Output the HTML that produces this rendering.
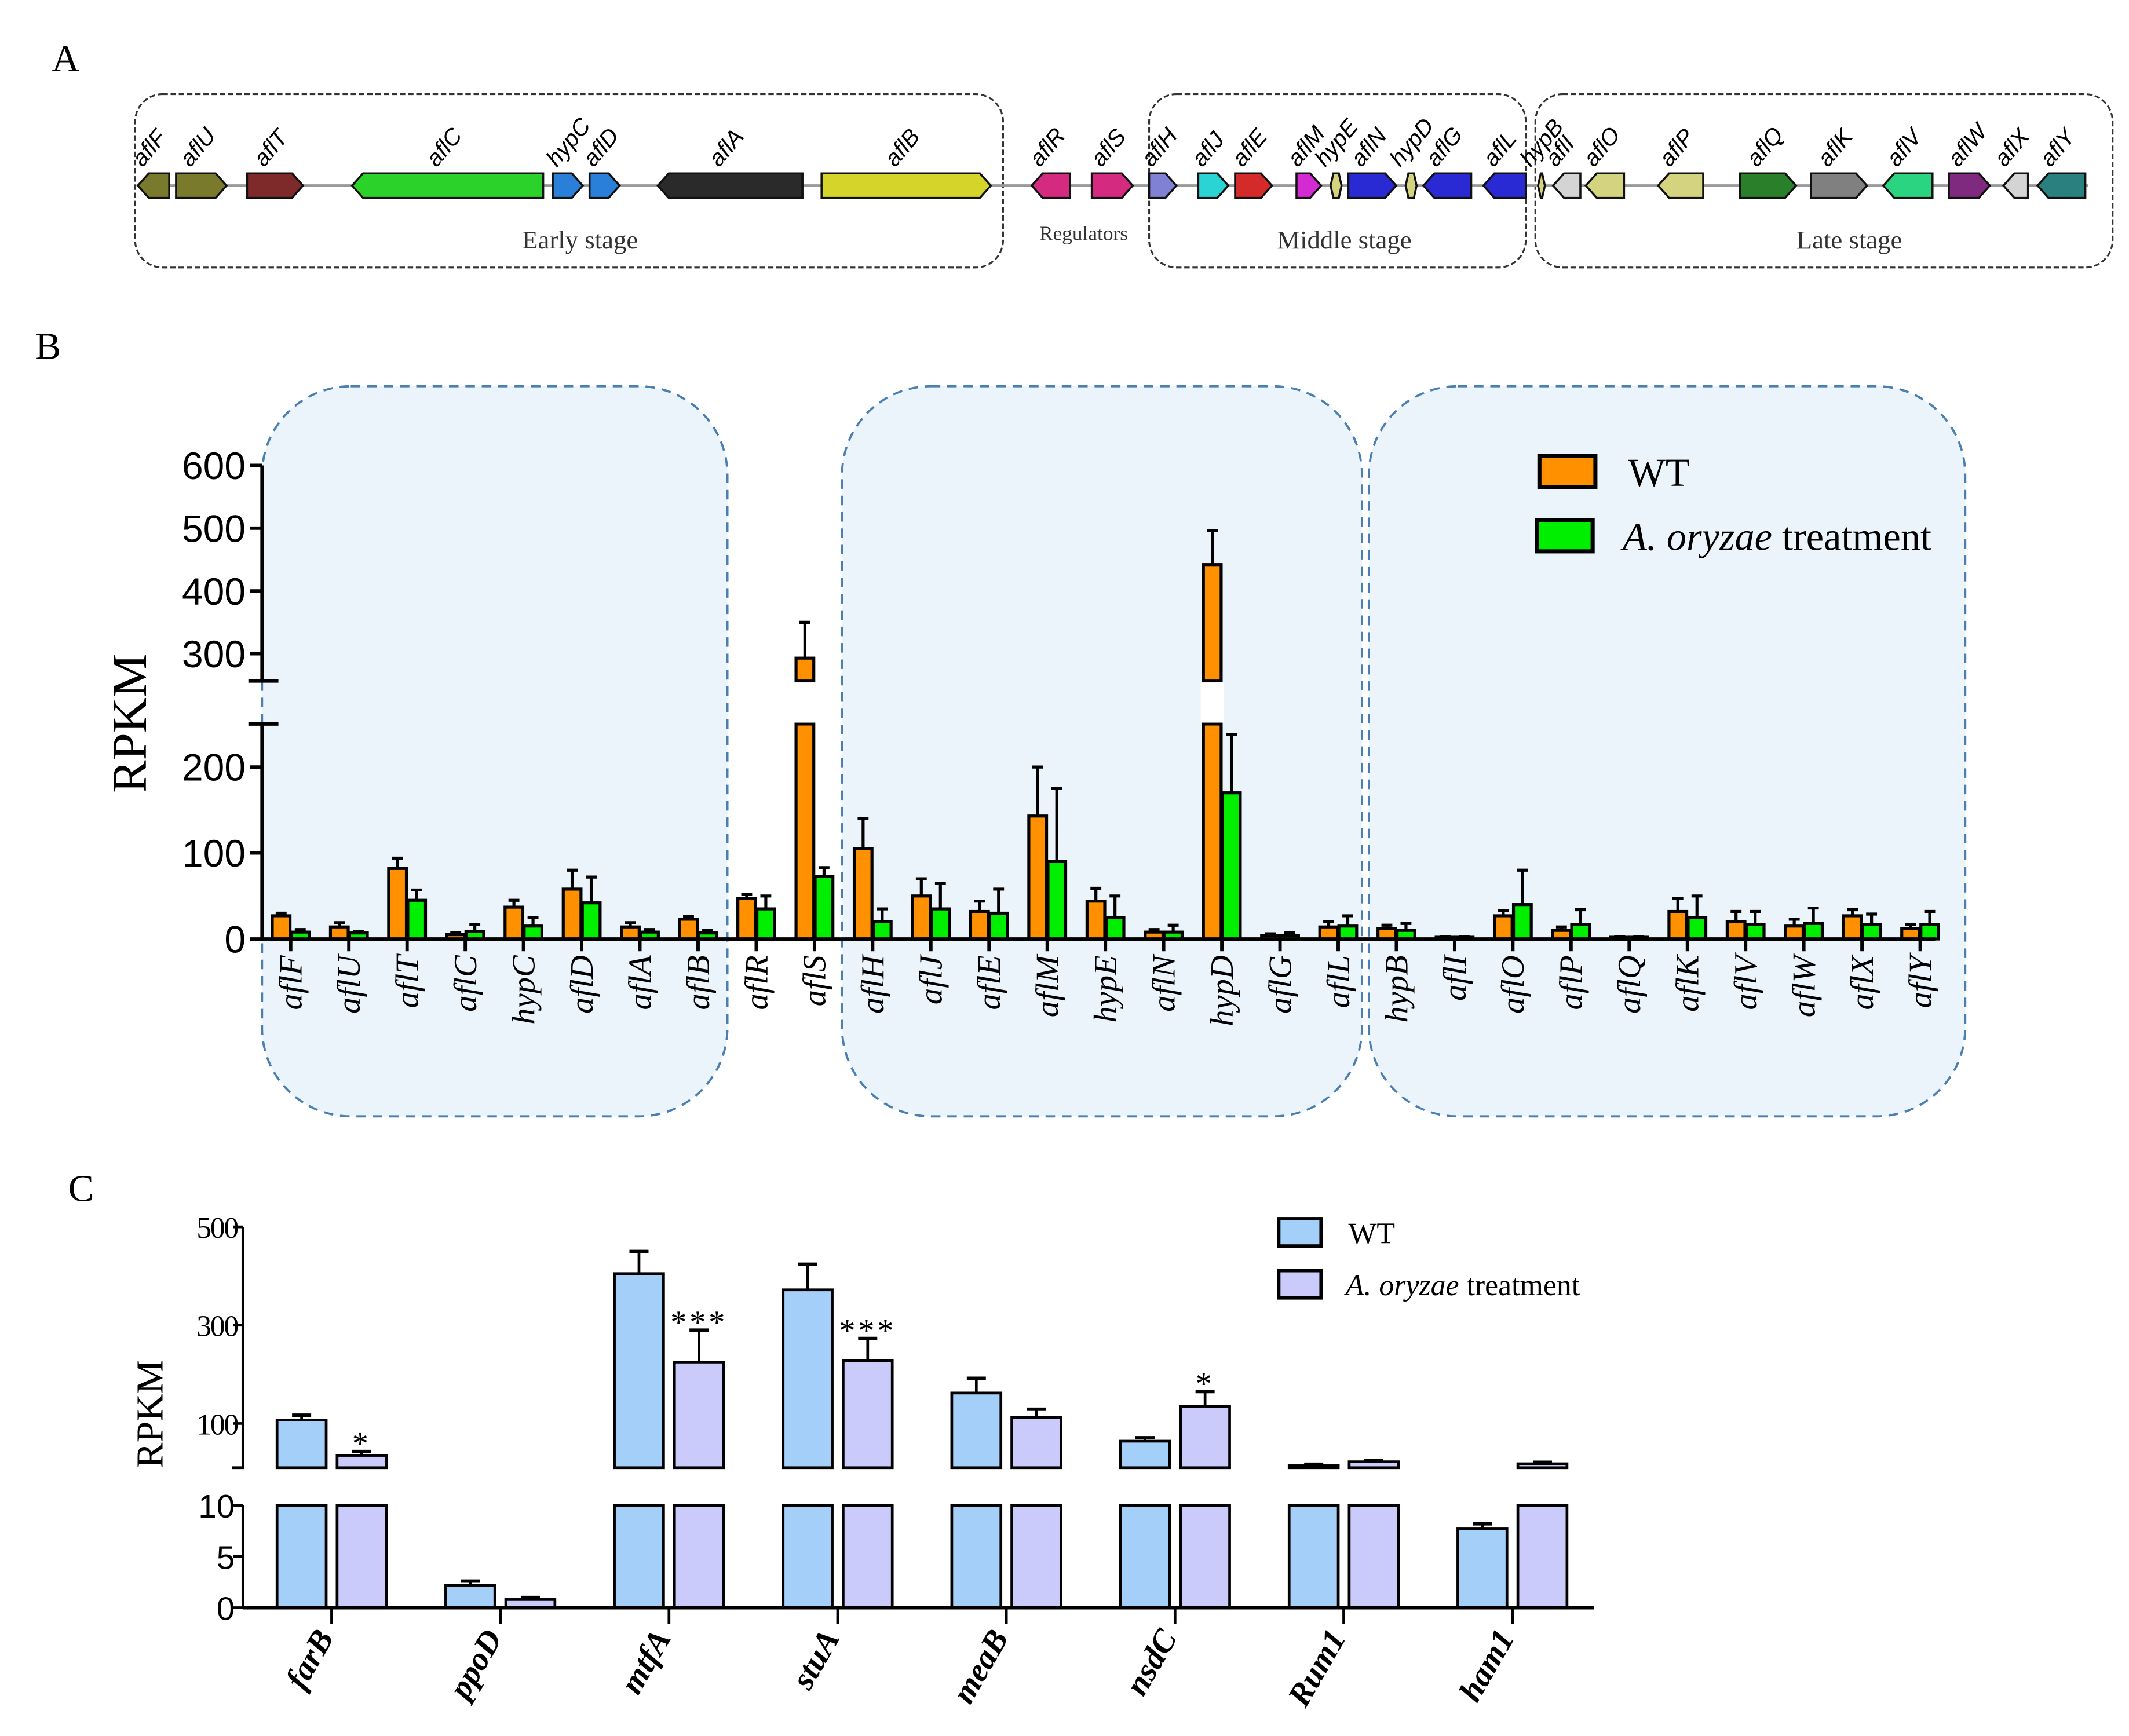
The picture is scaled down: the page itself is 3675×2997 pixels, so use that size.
<!DOCTYPE html>
<html><head><meta charset="utf-8"><style>
html,body{margin:0;padding:0;background:#fff;}
svg{display:block;}
.serif{font-family:"Liberation Serif",serif;}
.sans{font-family:"Liberation Sans",sans-serif;}
</style></head><body>
<svg id="fig" xmlns="http://www.w3.org/2000/svg" width="3675" height="2997" viewBox="0 0 1560 1272" preserveAspectRatio="none">
<rect x="0" y="0" width="1560" height="1272" fill="#fff"/>
<text class="serif" x="38" y="52" font-size="28">A</text>
<text class="serif" x="26" y="263" font-size="28">B</text>
<text class="serif" x="50" y="880" font-size="28">C</text>
<g id="pa"></g>
<g id="pb"></g>
<g id="pc"></g>
</svg>
<script>
// ---------- Panel A data ----------
const geneNames=["aflF","aflU","aflT","aflC","hypC","aflD","aflA","aflB","aflR","aflS","aflH","aflJ","aflE","aflM","hypE","aflN","hypD","aflG","aflL","hypB","aflI","aflO","aflP","aflQ","aflK","aflV","aflW","aflX","aflY"];
const geneStart=[101,129,181,258,405,432,482,602,756,800,842,878,905,950,975,988,1030,1043,1087,1127,1138,1162,1215,1275,1327,1380,1428,1468,1493];
const geneEnd=[124,166,222,398,427,454,588,726,784,830,862,900,932,968,983,1023,1038,1078,1118,1132,1158,1190,1248,1316,1368,1416,1458,1486,1528];
const geneDir=[-1,1,1,-1,1,1,-1,1,-1,1,1,1,1,1,0,1,0,-1,-1,0,-1,-1,-1,1,1,-1,1,-1,-1];
const geneColor=["#7a7a2c","#7a7a2c","#7f2a2a","#2ad22a","#2a7fd8","#2a7fd8","#2a2a2a","#d4d42a","#d42a80","#d42a80","#8080d4","#2ad4d4","#d42a2a","#d42ad4","#d4d480","#2a2ad4","#d4d480","#2a2ad4","#2a2ad4","#d4d480","#d4d4d4","#d4d480","#d4d480","#2a7f2a","#808080","#2ad480","#7f2a7f","#d4d4d4","#2a7f7f"];
const NS="http://www.w3.org/2000/svg";
function mk(parent,tag,attrs,text){const e=document.createElementNS(NS,tag);for(const k in attrs)e.setAttribute(k,attrs[k]);if(text!==undefined)e.textContent=text;parent.appendChild(e);return e;}

const pa=document.getElementById('pa');
const stageBoxes=[[99,69,636,127],[842,69,276,127],[1125,69,423,127]];
stageBoxes.forEach((b,i)=>{
  const r=mk(pa,'rect',{x:b[0],y:b[1],width:b[2],height:b[3],rx:20,fill:'none',stroke:'#333','stroke-width':1.3,'stroke-dasharray':'4,2'});
  
  
});
const bb=mk(pa,'line',{x1:100,y1:136,x2:1530,y2:136,stroke:'#999','stroke-width':2});


geneNames.forEach((n,i)=>{
  const a=geneStart[i],b=geneEnd[i],t=127,btm=145,m=136,h=Math.min(8,(b-a)/2);
  let pts;
  if(geneDir[i]===1)pts=`${a},${t} ${b-h},${t} ${b},${m} ${b-h},${btm} ${a},${btm}`;
  else if(geneDir[i]===-1)pts=`${a+h},${t} ${b},${t} ${b},${btm} ${a+h},${btm} ${a},${m}`;
  else pts=`${a+2},${t} ${b-2},${t} ${b},${m} ${b-2},${btm} ${a+2},${btm} ${a},${m}`;
  const p=mk(pa,'polygon',{points:pts,fill:geneColor[i],stroke:'#111','stroke-width':1.5});
  
  
  const cx=(a+b)/2;
  const tx=mk(pa,'text',{x:cx-8,y:123,'font-size':17,'font-style':'italic','font-family':'Liberation Sans, sans-serif',transform:`rotate(-50 ${cx-8} 123)`},n);
  
  
});
[["Early stage",425,182,19],["Regulators",794,176,15],["Middle stage",985,182,19],["Late stage",1355,182,19]].forEach(s=>{
  const t=mk(pa,'text',{x:s[1],y:s[2],'font-size':s[3],'text-anchor':'middle','font-family':'Liberation Serif, serif',fill:'#333'},s[0]);
  
  
});

// ---------- Panel B data ----------
const bCats=["aflF","aflU","aflT","aflC","hypC","aflD","aflA","aflB","aflR","aflS","aflH","aflJ","aflE","aflM","hypE","aflN","hypD","aflG","aflL","hypB","aflI","aflO","aflP","aflQ","aflK","aflV","aflW","aflX","aflY"];
const bWT=[27,14,82,5,37,58,14,23,47,293,105,50,32,143,44,8,442,4,14,12,2,27,10,2,32,20,15,27,12];
const bWTerr=[3,5,12,2,8,22,5,3,5,57,35,20,12,57,15,3,54,2,6,4,1,6,4,1,15,12,8,7,5];
const bTR=[8,7,45,9,15,42,8,7,35,73,20,35,30,90,25,8,170,4,15,10,2,40,17,2,25,17,18,17,17];
const bTRerr=[3,2,12,8,10,30,3,3,15,10,15,30,28,85,25,8,68,3,12,8,1,40,17,1,25,15,18,12,15];
const bLowTicks=[0,100,200];
const bHighTicks=[300,400,500,600];
(function(){
const g=document.getElementById('pb');
const AX=192,BASE=688;
function x(i){return 213+i*(1407-213)/(bCats.length-1);}
function yL(v){return BASE-v*0.63;}
const LTOP=yL(250);
function yH(v){return 479-(v-300)*0.46;}
const HBOT=499;
const HMIN=300-(HBOT-479)/0.46;
function yv(v){return v<=250?yL(v):(v>=HMIN?yH(v):LTOP);}
[[192,283,341,535],[617,283,381,535],[1003,283,437,535]].forEach(b=>{
  const r=mk(g,'rect',{x:b[0],y:b[1],width:b[2],height:b[3],rx:65,fill:'#ebf3fb',stroke:'#4a7fb0','stroke-width':1.6,'stroke-dasharray':'7,5'});
  
  
});
function bar(cx,v,err,color,name){
  const w=13;
  const gg=mk(g,'g',{});
  
  
  const topL=Math.max(yL(Math.min(v,250)),LTOP);
  mk(gg,'rect',{x:cx-w/2,y:topL,width:w,height:BASE-topL,fill:color,stroke:'#000','stroke-width':2.2});
  if(v>250){
    const yt=yH(v);
    mk(gg,'rect',{x:cx-w/2,y:yt,width:w,height:HBOT-yt,fill:color,stroke:'#000','stroke-width':2.2});
    mk(gg,'rect',{x:cx-w/2-2,y:HBOT+1,width:w+4,height:LTOP-HBOT-2,fill:'#fff'});
  }
  const ytop=yv(v),ye=v>250?yH(v+err):yL(v+err);
  mk(gg,'line',{x1:cx,y1:ytop,x2:cx,y2:ye,stroke:'#000','stroke-width':2.2});
  mk(gg,'line',{x1:cx-4,y1:ye,x2:cx+4,y2:ye,stroke:'#000','stroke-width':2.2});
}
bCats.forEach((c,i)=>{
  bar(x(i)-7,bWT[i],bWTerr[i],'#ff9000','bar-wt-'+c);
  bar(x(i)+7,bTR[i],bTRerr[i],'#00ee00','bar-treatment-'+c);
  const t=mk(g,'line',{x1:x(i),y1:BASE,x2:x(i),y2:BASE+9,stroke:'#000','stroke-width':2.5});
  
  
  const l=mk(g,'text',{x:0,y:0,'font-size':24,'font-style':'italic','font-family':'Liberation Serif, serif','text-anchor':'end',transform:`translate(${x(i)+8} 700) rotate(-90)`},c);
  
  
});
const ax=mk(g,'g',{});


mk(ax,'line',{x1:AX,y1:yH(600),x2:AX,y2:HBOT,stroke:'#000','stroke-width':2.5});
mk(ax,'line',{x1:AX,y1:LTOP,x2:AX,y2:BASE,stroke:'#000','stroke-width':2.5});
mk(ax,'line',{x1:AX-10,y1:HBOT,x2:AX+12,y2:HBOT,stroke:'#000','stroke-width':2.5});
mk(ax,'line',{x1:AX-10,y1:LTOP,x2:AX+12,y2:LTOP,stroke:'#000','stroke-width':2.5});
const xa=mk(g,'line',{x1:AX,y1:BASE,x2:1418,y2:BASE,stroke:'#000','stroke-width':2.5});


bLowTicks.forEach(v=>{mk(ax,'line',{x1:AX-9,y1:yL(v),x2:AX,y2:yL(v),stroke:'#000','stroke-width':2.5});
  mk(ax,'text',{x:AX-12,y:yL(v)+10,'font-size':28,'text-anchor':'end','font-family':'Liberation Sans, sans-serif'},v);});
bHighTicks.forEach(v=>{mk(ax,'line',{x1:AX-9,y1:yH(v),x2:AX,y2:yH(v),stroke:'#000','stroke-width':2.5});
  mk(ax,'text',{x:AX-12,y:yH(v)+10,'font-size':28,'text-anchor':'end','font-family':'Liberation Sans, sans-serif'},v);});
const yt=mk(g,'text',{x:0,y:0,'font-size':36,'text-anchor':'middle','font-family':'Liberation Serif, serif',transform:'translate(107 530) rotate(-90)'},'RPKM');


const lg=mk(g,'g',{});


mk(lg,'rect',{x:1128,y:334,width:41,height:23,fill:'#ff9000',stroke:'#000','stroke-width':3});
mk(lg,'text',{x:1193,y:356,'font-size':29,'font-family':'Liberation Serif, serif'},'WT');
mk(lg,'rect',{x:1126,y:381,width:41,height:23,fill:'#00ee00',stroke:'#000','stroke-width':3});
const t2=mk(lg,'text',{x:1189,y:403,'font-size':29,'font-family':'Liberation Serif, serif'});
mk(t2,'tspan',{'font-style':'italic'},'A. oryzae');
mk(t2,'tspan',{},' treatment');
})();

// ---------- Panel C data ----------
const cCats=["farB","ppoD","mtfA","stuA","meaB","nsdC","Rum1","ham1"];
const cWT=[107,2.2,405,372,162,64,14,7.7];
const cWTerr=[10,0.4,45,52,30,7,3,0.5];
const cTR=[35,0.8,225,228,112,135,22,18];
const cTRerr=[8,0.2,65,45,17,30,3,3];
const cSig=["*","","***","***","","*","",""];
const cHighTicks=[100,300,500];
const cLowTicks=[0,5,10];
(function(){
const g=document.getElementById('pc');
const AX=178,BASE=1178;
function x(i){return 243+i*123.6;}
function yL(v){return BASE-v*7.5;}
const LTOP=yL(10);
function yH(v){return 1043-(v-100)*0.36;}
const HBOT=yH(10);
function bar(cx,v,err,color,name,sig){
  const w=36;
  const gg=mk(g,'g',{});
  
  
  const topL=yL(Math.min(v,10));
  mk(gg,'rect',{x:cx-w/2,y:topL,width:w,height:BASE-topL,fill:color,stroke:'#000','stroke-width':2});
  let ytop,ye;
  if(v>10){
    ytop=yH(v);ye=yH(v+err);
    mk(gg,'rect',{x:cx-w/2,y:ytop,width:w,height:HBOT-ytop,fill:color,stroke:'#000','stroke-width':2});
    mk(gg,'rect',{x:cx-w/2-2,y:HBOT+1.2,width:w+4,height:LTOP-HBOT-2.4,fill:'#fff'});
  } else {ytop=yL(v);ye=yL(v+err);}
  mk(gg,'line',{x1:cx,y1:ytop,x2:cx,y2:ye,stroke:'#000','stroke-width':2});
  mk(gg,'line',{x1:cx-7,y1:ye,x2:cx+7,y2:ye,stroke:'#000','stroke-width':2.5});
  if(sig){mk(gg,'text',{x:cx,y:ye+2,'font-size':24,'text-anchor':'middle','font-family':'Liberation Serif, serif','letter-spacing':'2'},sig);}
}
cCats.forEach((c,i)=>{
  bar(x(i)-22,cWT[i],cWTerr[i],'#a4cff8','bar-wt-'+c,'');
  bar(x(i)+22,cTR[i],cTRerr[i],'#cbcbfb','bar-treatment-'+c,cSig[i]);
  const t=mk(g,'line',{x1:x(i),y1:BASE,x2:x(i),y2:BASE+12,stroke:'#000','stroke-width':2});
  
  
  const l=mk(g,'text',{x:0,y:0,'font-size':24,'font-style':'italic','font-weight':'bold','font-family':'Liberation Serif, serif','text-anchor':'end',transform:`translate(${x(i)+2} 1200) rotate(-60)`},c);
  
  
});
const ax=mk(g,'g',{});


mk(ax,'line',{x1:AX,y1:yH(500),x2:AX,y2:HBOT,stroke:'#000','stroke-width':2});
mk(ax,'line',{x1:AX,y1:LTOP,x2:AX,y2:BASE,stroke:'#000','stroke-width':2});
mk(ax,'line',{x1:AX-8,y1:HBOT,x2:AX+1,y2:HBOT,stroke:'#000','stroke-width':2});
const xa=mk(g,'line',{x1:AX,y1:BASE,x2:1168,y2:BASE,stroke:'#000','stroke-width':2.5});


cHighTicks.forEach(v=>{mk(ax,'line',{x1:AX-7,y1:yH(v),x2:AX,y2:yH(v),stroke:'#000','stroke-width':2});
  mk(ax,'text',{x:AX-4,y:yH(v)+8,'font-size':22,'text-anchor':'end','font-family':'Liberation Serif, serif','letter-spacing':'-1'},v);});
cLowTicks.forEach(v=>{mk(ax,'line',{x1:AX-7,y1:yL(v),x2:AX,y2:yL(v),stroke:'#000','stroke-width':2});
  mk(ax,'text',{x:AX-6,y:yL(v)+9,'font-size':24,'text-anchor':'end','font-family':'Liberation Sans, sans-serif'},v);});
const yt=mk(g,'text',{x:0,y:0,'font-size':28,'text-anchor':'middle','font-family':'Liberation Serif, serif',transform:'translate(119 1036) rotate(-90)'},'RPKM');


const lg=mk(g,'g',{});


mk(lg,'rect',{x:937,y:893,width:31,height:20,fill:'#a4cff8',stroke:'#000','stroke-width':2.5});
mk(lg,'text',{x:988,y:911,'font-size':22,'font-family':'Liberation Serif, serif'},'WT');
mk(lg,'rect',{x:937,y:931,width:31,height:20,fill:'#cbcbfb',stroke:'#000','stroke-width':2.5});
const t2=mk(lg,'text',{x:986,y:949,'font-size':22,'font-family':'Liberation Serif, serif'});
mk(t2,'tspan',{'font-style':'italic'},'A. oryzae');
mk(t2,'tspan',{},' treatment');
})();
</script>
</body></html>
